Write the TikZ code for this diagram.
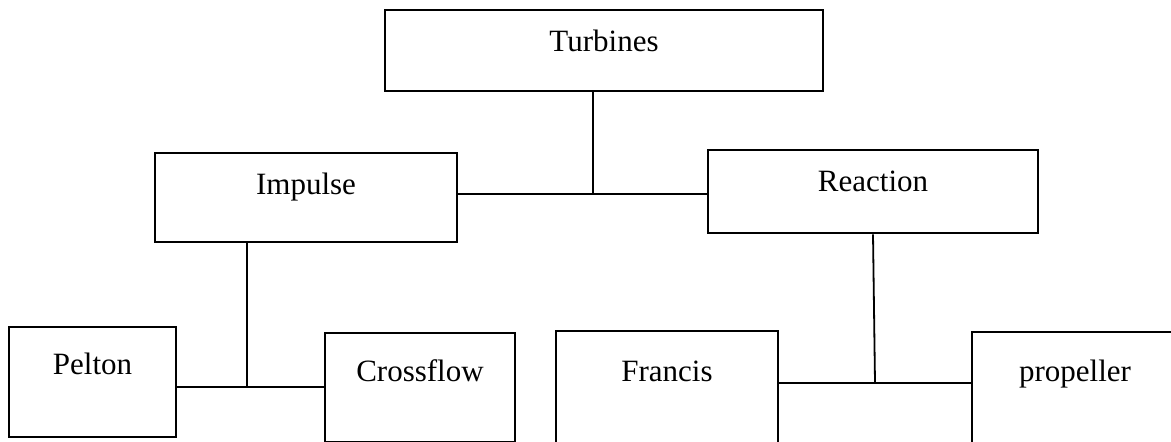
\documentclass[tikz,border=0pt]{standalone}
\usepackage{fontspec}
\setmainfont{Liberation Serif}

\tikzset{
  tbox/.style={draw, rectangle, line width=1.2pt, inner sep=0pt, anchor=north,
    font=\fontsize{15.5}{18}\selectfont},
  link/.style={line width=0.9pt}
}

\begin{document}
\begin{tikzpicture}[x=0.5pt, y=-0.5pt]

            \def \u {0.5pt} % one pixel of the reference

            \useasboundingbox (0,0) rectangle (1171,442);

            % boxes: name / centre x / top / width / text height / text depth / label
            \foreach \name/\cx/\top/\bw/\bh/\bd/\txt in {
                turb/604/9/438/41/40/Turbines,
                imp/306/152/302/41/48/Impulse,
                reac/873/149/330/41/42/Reaction,
                pel/92.5/326/167/47/63/Pelton,
                cross/420/332/190/48/61/Crossflow,
                fran/667/330/222/50/90/Francis,
                prop/1075/331/206/49/90/propeller}
            {
              \node[tbox, minimum width=\bw*\u, text height=\bh*\u, text depth=\bd*\u]
                (\name) at (\cx,\top) {\txt};
            }

            % junctions
            \coordinate (jtop) at (593,194);
            \coordinate (jimp) at (247,387);
            \coordinate (jreac) at (875,383);

            \draw[link] (turb.south -| jtop) -- (jtop);
            \draw[link] (imp.east |- jtop) -- (reac.west |- jtop);

            \draw[link] (imp.south -| jimp) -- (jimp);
            \draw[link] (pel.east |- jimp) -- (cross.west |- jimp);

            \draw[link] (reac.south) -- (jreac);
            \draw[link] (fran.east |- jreac) -- (prop.west |- jreac);
            \end{tikzpicture}
\end{document}
